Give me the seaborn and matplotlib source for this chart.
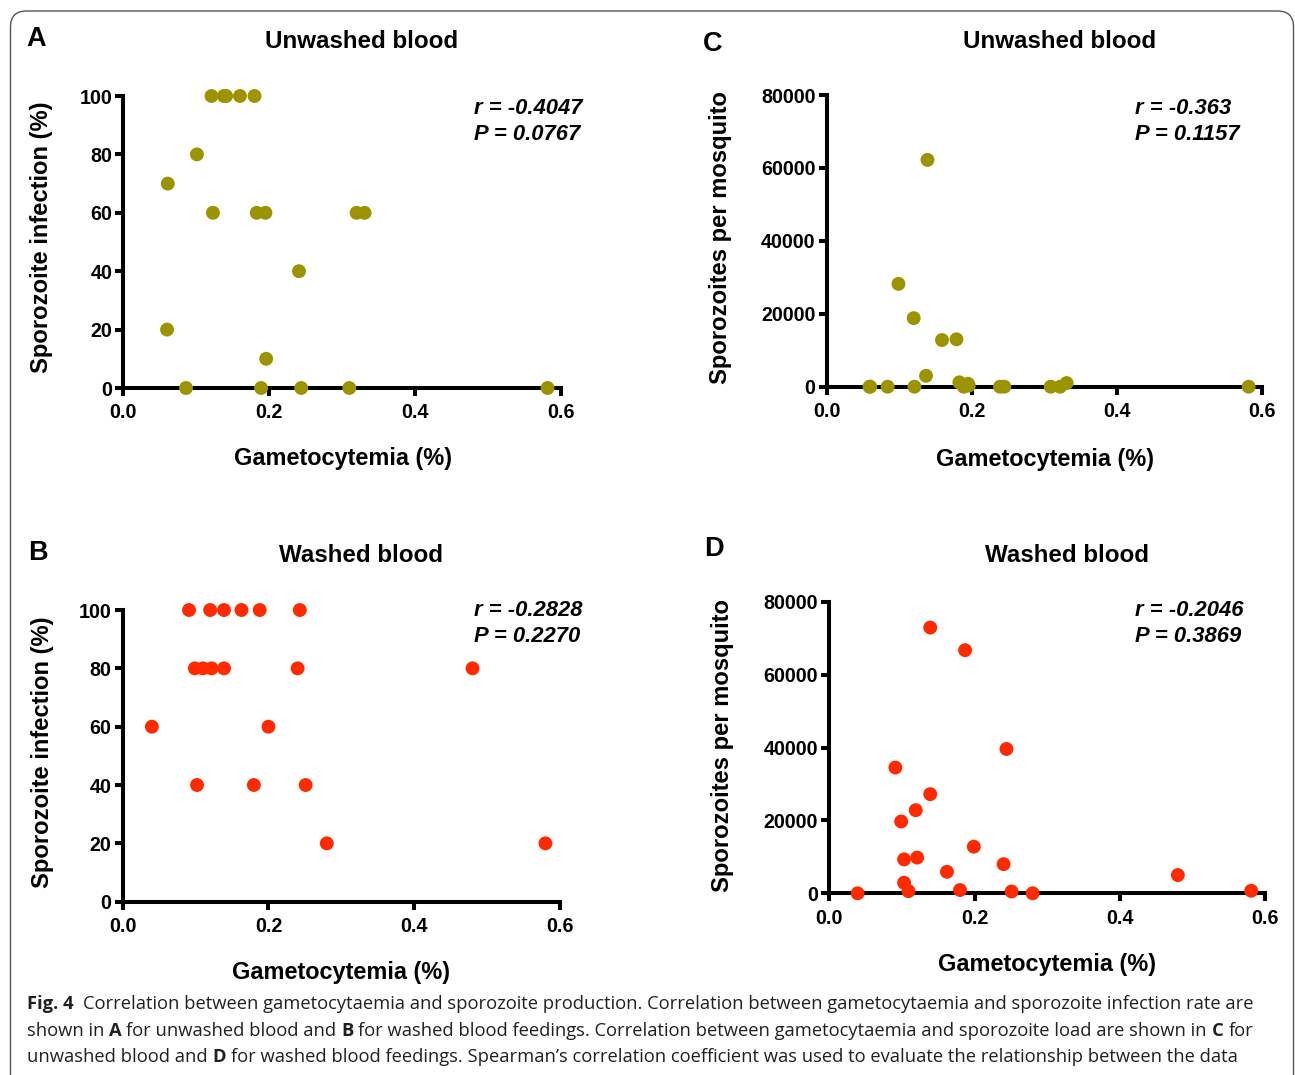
import numpy as np
import pandas as pd
import seaborn as sns
import matplotlib.pyplot as plt
from matplotlib.patches import FancyBboxPatch
from matplotlib.transforms import IdentityTransform

# DATA
# A - unwashed blood, infection rate
gam_a = [0.060, 0.061, 0.086, 0.101, 0.121, 0.123, 0.138, 0.141, 0.160, 0.180,
         0.183, 0.189, 0.195, 0.196, 0.241, 0.244, 0.310, 0.320, 0.331, 0.582]
inf_a = [20, 70, 0, 80, 100, 60, 100, 100, 100, 100,
         60, 0, 60, 10, 40, 0, 0, 60, 60, 0]

# B - washed blood, infection rate
gam_b = [0.091, 0.120, 0.139, 0.163, 0.188, 0.243, 0.099, 0.110, 0.122, 0.139,
         0.240, 0.480, 0.040, 0.200, 0.102, 0.180, 0.251, 0.280, 0.580]
inf_b = [100, 100, 100, 100, 100, 100, 80, 80, 80, 80,
         80, 80, 60, 60, 40, 40, 40, 20, 20]

# C - unwashed blood, sporozoite load
gam_c = [0.059, 0.060, 0.084, 0.099, 0.120, 0.121, 0.137, 0.139, 0.159, 0.179,
         0.183, 0.189, 0.195, 0.196, 0.239, 0.245, 0.309, 0.322, 0.331, 0.582]
spz_c = [0, 0, 0, 28200, 18800, 0, 3000, 62200, 12800, 13000,
         1200, 0, 800, 300, 0, 0, 0, 0, 1000, 0]

# D - washed blood, sporozoite load
gam_d = [0.039, 0.139, 0.187, 0.244, 0.091, 0.139, 0.119, 0.099, 0.199, 0.103,
         0.121, 0.162, 0.240, 0.480, 0.103, 0.109, 0.180, 0.251, 0.280, 0.581]
spz_d = [0, 72900, 66700, 39600, 34500, 27200, 22800, 19700, 12800, 9300,
         9800, 5900, 8000, 5000, 2900, 600, 900, 500, 0, 700]

x_ticks = [0.0, 0.2, 0.4, 0.6]
pct_ticks = [0, 20, 40, 60, 80, 100]
spz_ticks = [0, 20000, 40000, 60000, 80000]

stats = {'A': ('r = -0.4047', 'P = 0.0767'), 'B': ('r = -0.2828', 'P = 0.2270'),
         'C': ('r = -0.363', 'P = 0.1157'), 'D': ('r = -0.2046', 'P = 0.3869')}

OLIVE = '#9b9400'
RED = '#ff2a00'

W, H = 1295, 1075
sns.set_style('ticks')
plt.rcParams['font.family'] = ['Liberation Sans', 'DejaVu Sans']
plt.rcParams['font.weight'] = 'bold'
plt.rcParams['text.color'] = 'black'

fig = plt.figure(figsize=(W / 100, H / 100), dpi=100)


def fx(x):
    return x / W


def fy(y):
    return 1 - y / H


def make_ax(x0, y0, x1, y1):
    return fig.add_axes([fx(x0), fy(y1), (x1 - x0) / W, (y1 - y0) / H])


def style_ax(ax, ylim, yticks):
    ax.set_xlim(0, 0.6)
    ax.set_ylim(*ylim)
    ax.set_xticks(x_ticks)
    ax.set_xticklabels([f'{t:.1f}' for t in x_ticks])
    ax.set_yticks(yticks)
    ax.set_yticklabels([str(t) for t in yticks])
    ax.set_xlabel('')
    ax.set_ylabel('')
    sns.despine(ax=ax)
    for side in ['left', 'bottom']:
        ax.spines[side].set_linewidth(2.9)
        ax.spines[side].set_color('black')
        ax.spines[side].set_capstyle('projecting')
    ax.tick_params(width=2.9, length=6, color='black', labelsize=14.2, labelcolor='black')
    ax.tick_params(axis='x', pad=5)
    ax.tick_params(axis='y', pad=2)
    for lab in ax.get_xticklabels() + ax.get_yticklabels():
        lab.set_fontweight('bold')


panels = [
    ('A', (123.3, 96, 560.7, 388), gam_a, inf_a, OLIVE, (0, 100), pct_ticks),
    ('C', (826.7, 95, 1261.7, 386.7), gam_c, spz_c, OLIVE, (0, 80000), spz_ticks),
    ('B', (122.7, 610, 560, 901.7), gam_b, inf_b, RED, (0, 100), pct_ticks),
    ('D', (829.3, 601.7, 1265, 893.3), gam_d, spz_d, RED, (0, 80000), spz_ticks),
]

for key, rect, xs, ys, col, ylim, yticks in panels:
    ax = make_ax(*rect)
    df = pd.DataFrame({'gam': xs, 'val': ys})
    sns.scatterplot(data=df, x='gam', y='val', color=col, s=100, edgecolor='none',
                    ax=ax, clip_on=False, zorder=3)
    style_ax(ax, ylim, yticks)

# panel texts (pixel positions)
letters = {'A': (26, 39), 'B': (28, 553), 'C': (703, 44), 'D': (704, 549)}
titles = {'A': ('Unwashed blood', 362, 41), 'C': ('Unwashed blood', 1060, 42),
          'B': ('Washed blood', 361, 555), 'D': ('Washed blood', 1067, 556)}
stat_pos = {'A': (474, 108), 'C': (1135, 108), 'B': (474, 610), 'D': (1135, 610)}
xlab_pos = {'A': (343, 458), 'C': (1045, 459), 'B': (341, 973), 'D': (1047, 964)}
ylab = {'A': ('Sporozoite infection (%)', 42, 237), 'B': ('Sporozoite infection (%)', 43, 752),
        'C': ('Sporozoites per mosquito', 721, 238), 'D': ('Sporozoites per mosquito', 723, 745)}

for k in 'ABCD':
    lx, ly = letters[k]
    fig.text(fx(lx), fy(ly), k, fontsize=19.5, fontweight='bold', ha='left', va='center')
    t, tx, ty = titles[k]
    fig.text(fx(tx), fy(ty), t, fontsize=17.4, fontweight='bold', ha='center', va='center')
    sx, sy = stat_pos[k]
    fig.text(fx(sx), fy(sy), stats[k][0], fontsize=15.8, fontweight='bold', style='italic',
             ha='left', va='center')
    fig.text(fx(sx), fy(sy + 27), stats[k][1], fontsize=15.8, fontweight='bold', style='italic',
             ha='left', va='center')
    xx, xy = xlab_pos[k]
    fig.text(fx(xx), fy(xy), 'Gametocytemia (%)', fontsize=16.9, fontweight='bold',
             ha='center', va='center')
    t, yx, yy = ylab[k]
    fig.text(fx(yx), fy(yy), t, fontsize=17.1, fontweight='bold', rotation=90,
             ha='center', va='center')

# caption with bold runs
renderer = fig.canvas.get_renderer()
CAP_SIZE = 13.25


def text_w(s, bold):
    t = fig.text(0, 0, s, fontsize=CAP_SIZE, family='Open Sans',
                 fontweight='bold' if bold else 'normal')
    w = t.get_window_extent(renderer=renderer).width
    t.remove()
    return w


space_w = text_w('x x', False) - text_w('xx', False)

caption = [
    (1004, [('Fig. 4', True), ('', False),
            ('Correlation between gametocytaemia and sporozoite production. Correlation between '
             'gametocytaemia and sporozoite infection rate are', False)]),
    (1031, [('shown in', False), ('A', True), ('for unwashed blood and', False), ('B', True),
            ('for washed blood feedings. Correlation between gametocytaemia and sporozoite load '
             'are shown in', False), ('C', True), ('for', False)]),
    (1057, [('unwashed blood and', False), ('D', True),
            ('for washed blood feedings. Spearman\u2019s correlation coefficient was used to '
             'evaluate the relationship between the data', False)]),
]

for y, parts in caption:
    x = 27
    for s, bold in parts:
        if s:
            fig.text(fx(x), fy(y), s, fontsize=CAP_SIZE, family='Open Sans',
                     fontweight='bold' if bold else 'normal', ha='left', va='center',
                     color='#231f20')
            x += text_w(s, bold)
        x += space_w

# rounded frame around the figure
frame = FancyBboxPatch((10.5, -30), 1283, H - 11 + 30, boxstyle='round,pad=0,rounding_size=16',
                       transform=IdentityTransform(), fill=False, edgecolor='#555555', linewidth=1)
fig.add_artist(frame)

fig.savefig('out.png', dpi=100)
